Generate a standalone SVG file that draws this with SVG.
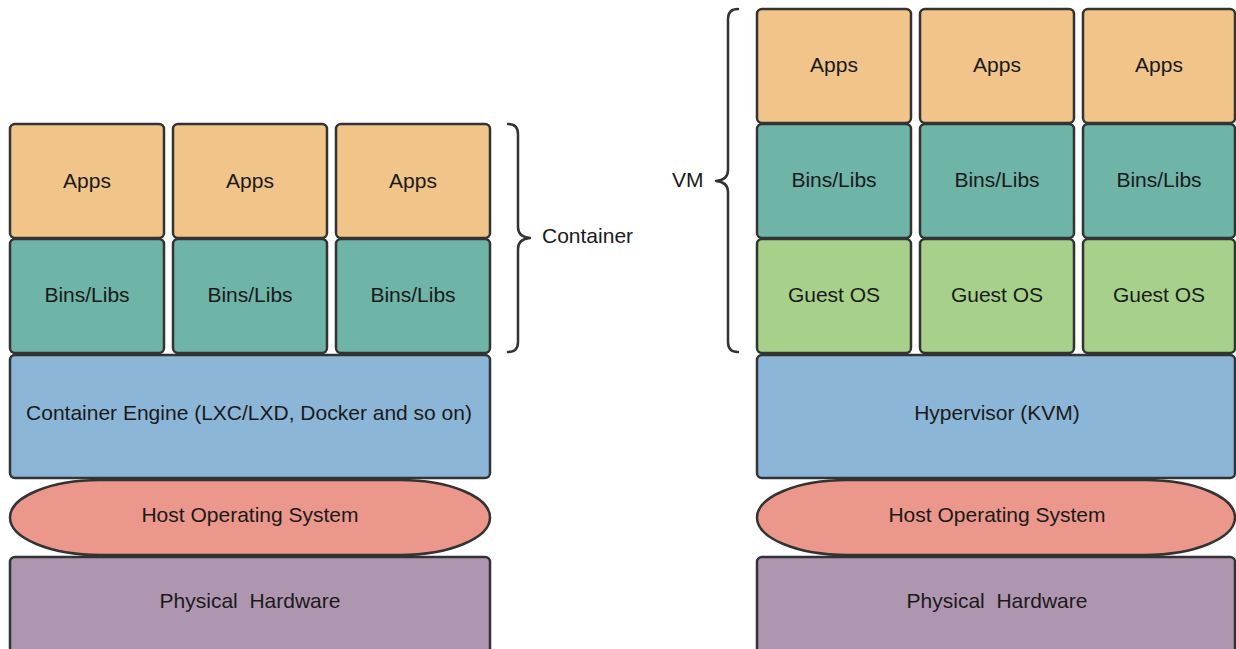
<svg xmlns="http://www.w3.org/2000/svg" width="1236" height="649" viewBox="0 0 1236 649">
<style>
.b{stroke:#333333;stroke-width:2.5}
.apps{fill:#F1C48A}
.bins{fill:#6EB4A7}
.guest{fill:#A7D18A}
.eng{fill:#8CB6D7}
.host{fill:#EC978B}
.hw{fill:#AF96B0}
text{font-family:"Liberation Sans",Arial,sans-serif;font-size:21px;fill:#1a1a1a;text-anchor:middle;white-space:pre}
.lbl{text-anchor:start}
.brace{fill:none;stroke:#333333;stroke-width:2.5;stroke-linejoin:round;stroke-linecap:round}
</style>
<rect width="1236" height="649" fill="#ffffff"/>
<!-- Left: containers -->
<g id="c-apps-1"><rect class="b apps" x="10" y="124" width="154" height="114" rx="5"/><text x="87" y="188">Apps</text></g>
<g id="c-apps-2"><rect class="b apps" x="173" y="124" width="154" height="114" rx="5"/><text x="250" y="188">Apps</text></g>
<g id="c-apps-3"><rect class="b apps" x="336" y="124" width="154" height="114" rx="5"/><text x="413" y="188">Apps</text></g>
<g id="c-bins-1"><rect class="b bins" x="10" y="239" width="154" height="114" rx="5"/><text x="87" y="302">Bins/Libs</text></g>
<g id="c-bins-2"><rect class="b bins" x="173" y="239" width="154" height="114" rx="5"/><text x="250" y="302">Bins/Libs</text></g>
<g id="c-bins-3"><rect class="b bins" x="336" y="239" width="154" height="114" rx="5"/><text x="413" y="302">Bins/Libs</text></g>
<g id="c-engine"><rect class="b eng" x="10" y="355" width="480" height="123" rx="5"/><text x="249" y="420">Container Engine (LXC/LXD, Docker and so on)</text></g>
<g id="c-host"><path class="b host" d="M100 480 H400 A90 37.5 0 0 1 400 555 H100 A90 37.5 0 0 1 100 480 Z"/><text x="250" y="522">Host Operating System</text></g>
<g id="c-hw"><rect class="b hw" x="10" y="557" width="480" height="100" rx="5"/><text x="250" y="608">Physical  Hardware</text></g>
<g id="c-container-label"><text class="lbl" x="542" y="243">Container</text></g>
<!-- Right: VMs -->
<g id="v-apps-1"><rect class="b apps" x="757" y="9" width="154" height="114" rx="5"/><text x="834" y="72">Apps</text></g>
<g id="v-apps-2"><rect class="b apps" x="920" y="9" width="154" height="114" rx="5"/><text x="997" y="72">Apps</text></g>
<g id="v-apps-3"><rect class="b apps" x="1083" y="9" width="152" height="114" rx="5"/><text x="1159" y="72">Apps</text></g>
<g id="v-bins-1"><rect class="b bins" x="757" y="124" width="154" height="114" rx="5"/><text x="834" y="187">Bins/Libs</text></g>
<g id="v-bins-2"><rect class="b bins" x="920" y="124" width="154" height="114" rx="5"/><text x="997" y="187">Bins/Libs</text></g>
<g id="v-bins-3"><rect class="b bins" x="1083" y="124" width="152" height="114" rx="5"/><text x="1159" y="187">Bins/Libs</text></g>
<g id="v-guest-1"><rect class="b guest" x="757" y="239" width="154" height="114" rx="5"/><text x="834" y="302">Guest OS</text></g>
<g id="v-guest-2"><rect class="b guest" x="920" y="239" width="154" height="114" rx="5"/><text x="997" y="302">Guest OS</text></g>
<g id="v-guest-3"><rect class="b guest" x="1083" y="239" width="152" height="114" rx="5"/><text x="1159" y="302">Guest OS</text></g>
<g id="v-hypervisor"><rect class="b eng" x="757" y="355" width="478" height="123" rx="5"/><text x="997" y="420">Hypervisor (KVM)</text></g>
<g id="v-host"><path class="b host" d="M847 480 H1145 A90 37.5 0 0 1 1145 555 H847 A90 37.5 0 0 1 847 480 Z"/><text x="997" y="522">Host Operating System</text></g>
<g id="v-hw"><rect class="b hw" x="757" y="557" width="478" height="100" rx="5"/><text x="997" y="608">Physical  Hardware</text></g>
<g id="v-vm-label"><text class="lbl" x="672" y="187">VM</text></g>
<!-- Braces -->
<g id="connectors">
<path class="brace" d="M508 124 Q518 124 518 134 L518 227 Q518 237 530 238 Q518 239 518 249 L518 342 Q518 352 508 352"/>
<path class="brace" d="M738 9 Q728 9 728 19 L728 170 Q728 180 716 181 Q728 182 728 192 L728 342 Q728 352 738 352"/>
</g>
</svg>
